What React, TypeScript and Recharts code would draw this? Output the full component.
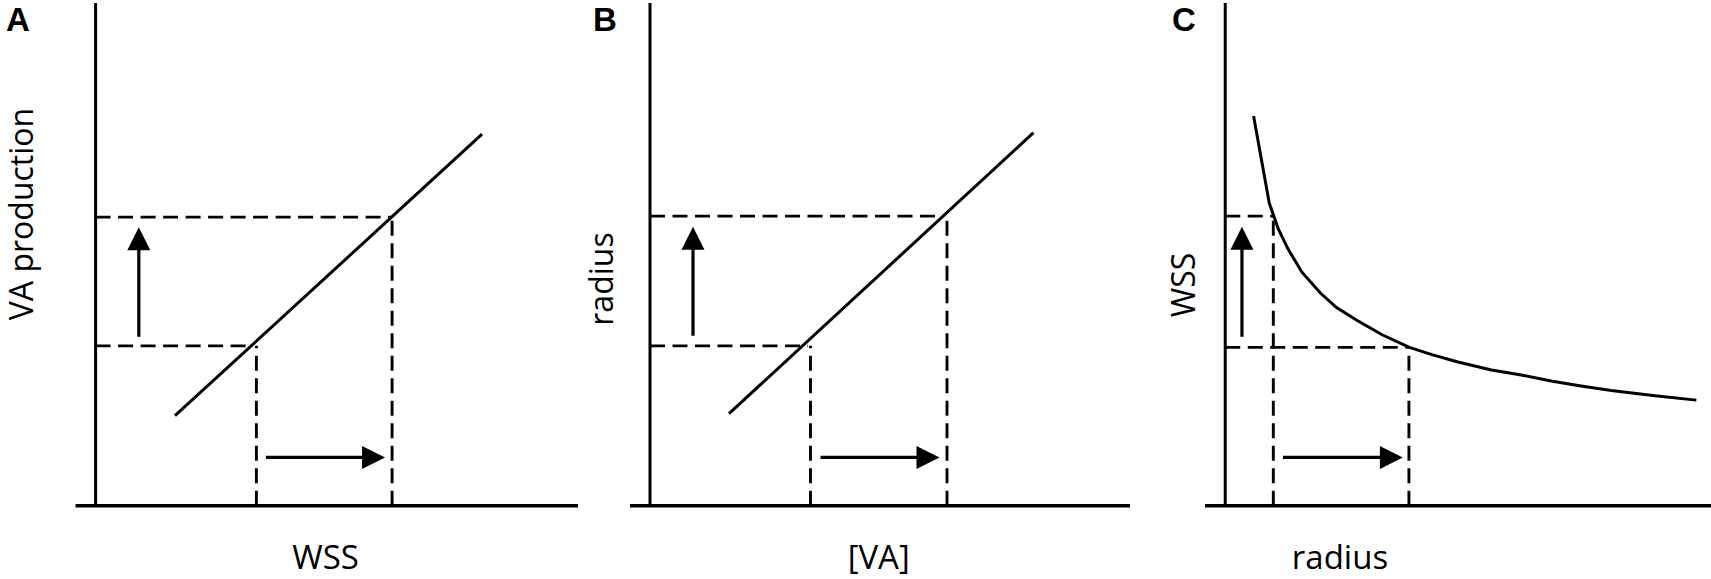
import React from 'react'
import { ComposedChart, Line, XAxis, YAxis, ReferenceLine } from 'recharts'

// Panel A: VA production vs WSS (arbitrary units, y-axis at x = 0)
const A_LINE_X = [15.8, 76.9]
const A_LINE_Y = [17.9, 73.9]
const A_HIGH = { y: 57.4, xEnd: 58.9, xDrop: 59.0 }
const A_LOW = { y: 31.8, xEnd: 31.3, xDrop: 32.0 }
const A_UP = { x: 8.6, from: 33.6, to: 55.4 }
const A_RIGHT = { y: 9.6, from: 33.9, to: 57.6 }

// Panel B: radius vs [VA]
const B_LINE_X = [15.8, 76.7]
const B_LINE_Y = [18.3, 74.2]
const B_HIGH = { y: 57.6, xEnd: 58.6, xDrop: 59.4 }
const B_LOW = { y: 31.8, xEnd: 31.6, xDrop: 32.1 }
const B_UP = { x: 8.6, from: 33.8, to: 55.5 }
const B_RIGHT = { y: 9.6, from: 34.1, to: 57.9 }

// Panel C: WSS vs radius
const C_CURVE_X = [5.6, 8.7, 10.5, 12.5, 15.2, 18.8, 22.0, 26.0, 31.0, 36.4, 41.0, 46.0, 52.6, 58.5, 64.4, 70.3, 76.3, 84.5, 93.1]
const C_CURVE_Y = [77.5, 60.2, 55.0, 50.9, 46.4, 42.3, 39.4, 36.9, 34.0, 31.5, 30.0, 28.6, 27.0, 26.0, 24.8, 23.8, 22.9, 21.9, 21.0]
const C_HIGH = { y: 57.6, xEnd: 9.5, xDrop: 9.5 }
const C_LOW = { y: 31.5, xEnd: 36.3, xDrop: 36.3 }
const C_UP = { x: 3.3, from: 33.6, to: 55.5 }
const C_RIGHT = { y: 9.6, from: 11.4, to: 35.1 }

const X_DOMAIN = [-4, 96]
const Y_DOMAIN = [0, 100]

const zip = (xs: number[], ys: number[]) => xs.map((x, i) => ({ x, y: ys[i] }))

const FONT = '"Open Sans", "Noto Sans", sans-serif'

// arrow drawn on a reference segment, head at the second point
const ArrowShape = (props: any) => {
  const { x1, y1, x2, y2 } = props
  const dx = x2 - x1
  const dy = y2 - y1
  const len = Math.hypot(dx, dy) || 1
  const ux = dx / len
  const uy = dy / len
  const head = 23
  const half = 11.5
  const bx = x2 - ux * head
  const by = y2 - uy * head
  const pts = [
    `${x2},${y2}`,
    `${bx - uy * half},${by + ux * half}`,
    `${bx + uy * half},${by - ux * half}`,
  ].join(' ')
  return (
    <g>
      <line x1={x1} y1={y1} x2={bx + ux * 1} y2={by + uy * 1} stroke="#000" strokeWidth={3.2} />
      <polygon points={pts} fill="#000" />
    </g>
  )
}

type Guide = { y: number; xEnd: number; xDrop: number }

function Panel({
  left,
  width,
  marginLeft,
  marginRight,
  data,
  high,
  low,
  up,
  right,
  letter,
  letterX,
  yLabel,
  yLabelX,
  yLabelY,
  xLabel,
  xLabelX,
}: {
  left: number
  width: number
  marginLeft: number
  marginRight: number
  data: { x: number; y: number }[]
  high: Guide
  low: Guide
  up: { x: number; from: number; to: number }
  right: { y: number; from: number; to: number }
  letter: string
  letterX: number
  yLabel: string
  yLabelX: number
  yLabelY: number
  xLabel: string
  xLabelX: number
}) {
  const dash = '15 7.5'
  const dashW = 2.9
  return (
    <div style={{ position: 'absolute', left, top: 0 }}>
      <ComposedChart width={width} height={579} margin={{ top: 3, left: marginLeft, right: marginRight, bottom: 0 }}>
        <XAxis
          dataKey="x"
          type="number"
          domain={X_DOMAIN}
          allowDataOverflow
          tick={false}
          tickLine={false}
          height={73.3}
          axisLine={{ stroke: '#000', strokeWidth: 3.4 }}
        />
        <YAxis type="number" domain={Y_DOMAIN} allowDataOverflow hide />
        <ReferenceLine x={0} stroke="#000" strokeWidth={3} />
        <ReferenceLine segment={[{ x: 0, y: high.y }, { x: high.xEnd, y: high.y }]} stroke="#000" strokeWidth={dashW} strokeDasharray={dash} />
        <ReferenceLine segment={[{ x: high.xDrop, y: 0 }, { x: high.xDrop, y: high.y }]} stroke="#000" strokeWidth={dashW} strokeDasharray={dash} />
        <ReferenceLine segment={[{ x: 0, y: low.y }, { x: low.xEnd, y: low.y }]} stroke="#000" strokeWidth={dashW} strokeDasharray={dash} />
        <ReferenceLine segment={[{ x: low.xDrop, y: 0 }, { x: low.xDrop, y: low.y }]} stroke="#000" strokeWidth={dashW} strokeDasharray={dash} />
        <ReferenceLine segment={[{ x: up.x, y: up.from }, { x: up.x, y: up.to }]} shape={ArrowShape} />
        <ReferenceLine segment={[{ x: right.from, y: right.y }, { x: right.to, y: right.y }]} shape={ArrowShape} />
        <Line
          data={data}
          dataKey="y"
          type="linear"
          stroke="#000"
          strokeWidth={3}
          dot={false}
          activeDot={false}
          isAnimationActive={false}
        />
        <text x={letterX} y={31} fontFamily='"Liberation Sans", Arial, sans-serif' fontWeight="bold" fontSize={33} fill="#000">
          {letter}
        </text>
        <text
          x={yLabelX}
          y={yLabelY}
          transform={`rotate(-90 ${yLabelX} ${yLabelY})`}
          textAnchor="middle"
          fontFamily={FONT}
          fontSize={32}
          fill="#000"
        >
          {yLabel}
        </text>
        <text x={xLabelX} y={569} textAnchor="middle" fontFamily={FONT} fontSize={33} fill="#000">
          {xLabel}
        </text>
      </ComposedChart>
    </div>
  )
}

export default function App() {
  return (
    <div style={{ position: 'absolute', left: 0, top: 0, width: 1711, height: 579, background: '#fff', overflow: 'hidden' }}>
      <Panel
        left={0}
        width={600}
        marginLeft={75.5}
        marginRight={22}
        data={zip(A_LINE_X, A_LINE_Y)}
        high={A_HIGH}
        low={A_LOW}
        up={A_UP}
        right={A_RIGHT}
        letter="A"
        letterX={6}
        yLabel="VA production"
        yLabelX={33}
        yLabelY={214}
        xLabel="WSS"
        xLabelX={325.5}
      />
      <Panel
        left={554}
        width={600}
        marginLeft={76}
        marginRight={24}
        data={zip(B_LINE_X, B_LINE_Y)}
        high={B_HIGH}
        low={B_LOW}
        up={B_UP}
        right={B_RIGHT}
        letter="B"
        letterX={39}
        yLabel="radius"
        yLabelX={59}
        yLabelY={279}
        xLabel="[VA]"
        xLabelX={324.7}
      />
      <Panel
        left={1130}
        width={581}
        marginLeft={75}
        marginRight={0}
        data={zip(C_CURVE_X, C_CURVE_Y)}
        high={C_HIGH}
        low={C_LOW}
        up={C_UP}
        right={C_RIGHT}
        letter="C"
        letterX={42}
        yLabel="WSS"
        yLabelX={65}
        yLabelY={285}
        xLabel="radius"
        xLabelX={210}
      />
    </div>
  )
}
